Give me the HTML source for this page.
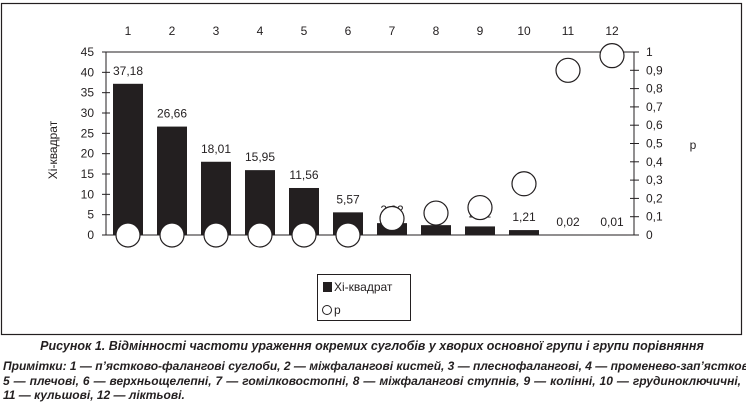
<!DOCTYPE html>
<html><head><meta charset="utf-8"><style>
body{margin:0;width:746px;height:411px;background:#fff;overflow:hidden;font-family:"Liberation Sans",sans-serif}
.cap{position:absolute;left:3px;width:738px;font-family:"Liberation Sans Narrow","Liberation Sans",sans-serif;font-weight:bold;font-style:italic;font-size:12px;color:#231f20;white-space:nowrap}
.j{text-align:justify;text-align-last:justify}
</style></head><body>
<svg width="746" height="411" style="position:absolute;left:0;top:0">
<rect x="1.5" y="3.5" width="740" height="331" fill="none" stroke="#231f20" stroke-width="1.2"/>
<g id="plot"></g>
<text x="57" y="150" transform="rotate(-90 57 150)" text-anchor="middle" font-size="12" fill="#231f20">Хі-квадрат</text>
<text x="693" y="149" text-anchor="middle" font-size="12" fill="#231f20">p</text>
<g>
<rect x="317.5" y="274.5" width="93" height="46" fill="#fff" stroke="#231f20"/>
<rect x="323" y="282" width="9" height="10" fill="#231f20"/>
<text x="334" y="291" font-size="12" fill="#231f20">Хі-квадрат</text>
<circle cx="327" cy="310" r="4.5" fill="#fff" stroke="#231f20"/>
<text x="334" y="314" font-size="12" fill="#231f20">p</text>
</g>
</svg>
<div class="cap" style="top:339px;text-align:center;font-size:12.5px">Рисунок 1. Відмінності частоти ураження окремих суглобів у хворих основної групи і групи порівняння</div>
<div class="cap j" style="top:359px">Примітки: 1 — п’ястково-фалангові суглоби, 2 — міжфалангові кистей, 3 — плеснофалангові, 4 — променево-зап’ясткові,</div>
<div class="cap j" style="top:374px">5 — плечові, 6 — верхньощелепні, 7 — гомілковостопні, 8 — міжфалангові ступнів, 9 — колінні, 10 — грудиноключичні,</div>
<div class="cap" style="top:388px">11 — кульшові, 12 — ліктьові.</div>
<script>
const categories=["1","2","3","4","5","6","7","8","9","10","11","12"];
const chiValues=[37.18,26.66,18.01,15.95,11.56,5.57,2.92,2.42,2.11,1.21,0.02,0.01];
const chiLabels=["37,18","26,66","18,01","15,95","11,56","5,57","2,92","2,42","2,11","1,21","0,02","0,01"];
const pValues=[0,0,0,0,0,0,0.09,0.12,0.15,0.28,0.9,0.98];
const leftTicks=[0,5,10,15,20,25,30,35,40,45];
const rightTicks=["0","0,1","0,2","0,3","0,4","0,5","0,6","0,7","0,8","0,9","1"];
const NS="http://www.w3.org/2000/svg";
const L=106,R=634,T=52,B=235,bw=(R-L)/categories.length;
const yL=v=>B-(v/45)*(B-T);
const yR=v=>B-v*(B-T);
const xC=i=>L+bw*(i+0.5);
const g=document.getElementById('plot');
function mk(tag,a,txt){const e=document.createElementNS(NS,tag);for(const k in a)e.setAttribute(k,a[k]);if(txt!=null)e.textContent=txt;g.appendChild(e);return e;}
let e;
e=mk('line',{x1:L,y1:T,x2:R,y2:T,stroke:'#231f20'});


e=mk('line',{x1:L,y1:T,x2:L,y2:B,stroke:'#231f20'});


e=mk('line',{x1:R,y1:T,x2:R,y2:B,stroke:'#231f20'});


e=mk('line',{x1:L,y1:B,x2:R+5,y2:B,stroke:'#231f20'});


leftTicks.forEach(v=>{const y=yL(v);
e=mk('line',{x1:L-4,y1:y,x2:L+4,y2:y,stroke:'#231f20'});


e=mk('text',{x:L-12,y:y+4,'text-anchor':'end','font-size':12,fill:'#231f20'},String(v));

});
rightTicks.forEach((t,i)=>{const y=yR(i/10);
e=mk('line',{x1:R-4,y1:y,x2:R+5,y2:y,stroke:'#231f20'});


e=mk('text',{x:R+12,y:y+4,'font-size':12,fill:'#231f20'},t);

});
categories.forEach((c,i)=>{const x=xC(i);
e=mk('text',{x:x,y:35,'text-anchor':'middle','font-size':12,fill:'#231f20'},c);


const y=yL(chiValues[i]);
e=mk('rect',{x:x-15,y:y,width:30,height:Math.max(B-y,0.5),fill:'#231f20'});


e=mk('text',{x:x,y:Math.min(y-9,B-6),'text-anchor':'middle','font-size':12,fill:'#231f20'},chiLabels[i]);

});
categories.forEach((c,i)=>{
e=mk('circle',{cx:xC(i),cy:yR(pValues[i]),r:12,fill:'#fff',stroke:'#231f20','stroke-width':1.2});

});
</script>
</body></html>
